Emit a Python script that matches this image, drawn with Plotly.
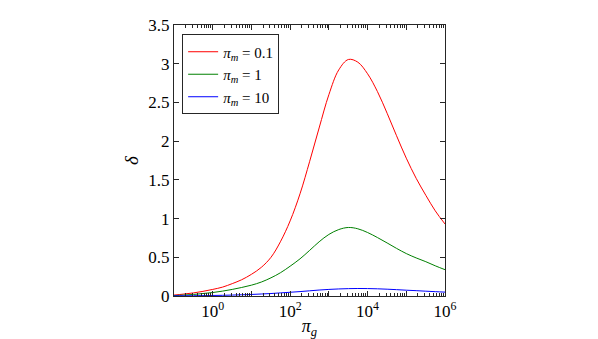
import plotly.graph_objects as go

# data
pi_g = [0.1, 0.18, 0.32, 0.56, 1, 1.8, 3.2, 5.6, 10, 18, 32, 56, 100, 180, 320, 560,
        1000, 1800, 3200, 5600, 10000, 18000, 32000, 56000, 100000, 180000, 320000,
        560000, 1000000]
delta_01 = [0.012, 0.025, 0.04, 0.06, 0.085, 0.115, 0.16, 0.21, 0.28, 0.37, 0.50, 0.70,
            0.97, 1.32, 1.74, 2.17, 2.60, 2.92, 3.055, 3.02, 2.87, 2.64, 2.36, 2.07,
            1.78, 1.52, 1.30, 1.10, 0.93]
delta_1 = [0.005, 0.012, 0.02, 0.032, 0.045, 0.063, 0.085, 0.11, 0.14, 0.18, 0.235, 0.30,
           0.385, 0.48, 0.59, 0.70, 0.795, 0.858, 0.885, 0.868, 0.82, 0.755, 0.685,
           0.615, 0.548, 0.492, 0.443, 0.39, 0.34]
delta_10 = [0.002, 0.003, 0.004, 0.005, 0.007, 0.009, 0.012, 0.016, 0.02, 0.026, 0.032,
            0.04, 0.048, 0.057, 0.067, 0.077, 0.085, 0.091, 0.095, 0.097, 0.096, 0.093,
            0.088, 0.082, 0.075, 0.069, 0.062, 0.056, 0.05]

series = [
    ('<i>π<sub>m</sub></i> = 0.1', delta_01, '#ff0000'),
    ('<i>π<sub>m</sub></i> = 1', delta_1, '#008000'),
    ('<i>π<sub>m</sub></i> = 10', delta_10, '#0000ff'),
]

x_tickvals = [0.1, 1, 10, 100, 1000, 10000, 100000, 1000000]
x_ticktext = ['', '10<sup>0</sup>', '', '10<sup>2</sup>', '', '10<sup>4</sup>', '', '10<sup>6</sup>']

fig = go.Figure()
for name, y, color in series:
    fig.add_trace(go.Scatter(x=pi_g, y=y, name=name, mode='lines',
                             line=dict(color=color, width=1, shape='spline')))

axis_style = dict(
    showline=True, linecolor='#262626', linewidth=1, mirror='allticks',
    ticks='inside', tickcolor='#262626', ticklen=5, showgrid=False, zeroline=False,
    automargin=False,
    tickfont=dict(family='Liberation Serif', size=17, color='#000000'),
)

# page body adds an 8px offset, so the figure is 8px smaller
fig.update_layout(
    width=590, height=331,
    margin=dict(l=166, r=153, t=17, b=43),
    paper_bgcolor='white', plot_bgcolor='white',
    font=dict(family='Liberation Serif', size=16, color='#000000'),
    xaxis=dict(type='log', range=[-1, 6], tickvals=x_tickvals, ticktext=x_ticktext,
               title=dict(text='<i>π<sub>g</sub></i>', standoff=0, font=dict(size=18)),
               minor=dict(ticks='inside', ticklen=3, tickcolor='#262626', dtick='D1'),
               **axis_style),
    yaxis=dict(range=[0, 3.5], dtick=0.5,
               title=dict(text='<i>δ</i>', standoff=4, font=dict(size=19)),
               **axis_style),
    legend=dict(x=0.03, y=0.965, xanchor='left', yanchor='top',
                bordercolor='#262626', borderwidth=1, bgcolor='white',
                font=dict(size=15), tracegroupgap=0, itemwidth=30),
    showlegend=True,
)

fig.write_html('out.html')
